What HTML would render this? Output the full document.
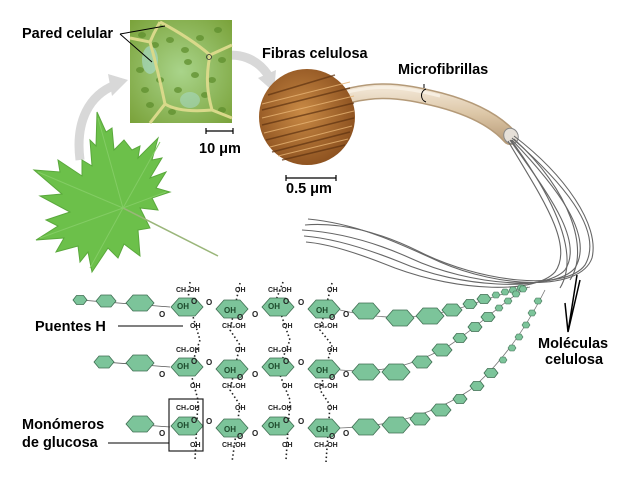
<!DOCTYPE html>
<html><head><meta charset="utf-8"><style>
html,body{margin:0;padding:0;background:#fff;}
svg{display:block;}
.lb{font-family:"Liberation Sans",sans-serif;font-weight:bold;font-size:14.5px;fill:#000;}
.sm{font-family:"Liberation Sans",sans-serif;font-weight:bold;font-size:7px;fill:#222;}
.si{font-family:"Liberation Sans",sans-serif;font-weight:bold;font-size:8px;fill:#1d4a2c;}
.o{font-family:"Liberation Sans",sans-serif;font-weight:bold;font-size:8px;fill:#222;}
</style></head><body>
<svg width="638" height="479" viewBox="0 0 638 479" xmlns="http://www.w3.org/2000/svg">
<defs>
<polygon id="ring" points="-16,0 -8,-9 8,-9 16,0 8,9 -8,9" fill="#7cc49a" stroke="#3f6e52" stroke-width="0.8"/>
<polygon id="hexL" points="-14,0 -7,-8 7,-8 14,0 7,8 -7,8" fill="#7cc49a" stroke="#3f6e52" stroke-width="0.8"/>
<polygon id="hexM" points="-10,0 -5,-6 5,-6 10,0 5,6 -5,6" fill="#7cc49a" stroke="#3f6e52" stroke-width="0.8"/>
<polygon id="hexS" points="-7,0 -3.5,-4.5 3.5,-4.5 7,0 3.5,4.5 -3.5,4.5" fill="#7cc49a" stroke="#3f6e52" stroke-width="0.8"/>
<polygon id="hexT" points="-4,0 -2,-3 2,-3 4,0 2,3 -2,3" fill="#7cc49a" stroke="#3f6e52" stroke-width="0.6"/>
<radialGradient id="cellg" cx="0.5" cy="0.5" r="0.7"><stop offset="0" stop-color="#a9d48a"/><stop offset="1" stop-color="#7aa23a"/></radialGradient>
<radialGradient id="brn" cx="0.45" cy="0.45" r="0.6"><stop offset="0" stop-color="#c98a45"/><stop offset="1" stop-color="#8a4f1e"/></radialGradient>
<linearGradient id="tube" x1="0" y1="0" x2="0" y2="1"><stop offset="0" stop-color="#efe2cf"/><stop offset="0.5" stop-color="#dcc6a6"/><stop offset="1" stop-color="#bfa482"/></linearGradient>
</defs>

<!-- gray arrows -->
<path d="M80,160 C75,120 90,95 115,85" fill="none" stroke="#d8d8d8" stroke-width="9"/>
<polygon points="108,74 128,80 112,96" fill="#d8d8d8"/>
<path d="M214,58 C240,50 258,60 268,75" fill="none" stroke="#d8d8d8" stroke-width="9"/>
<polygon points="258,78 276,70 274,92" fill="#d8d8d8"/>

<!-- cell image -->
<rect x="130" y="20" width="102" height="103" fill="url(#cellg)"/>
<g fill="#5f8f2e" opacity="0.75">
<ellipse cx="142" cy="35" rx="4" ry="3"/><ellipse cx="155" cy="45" rx="4" ry="3"/><ellipse cx="170" cy="40" rx="4" ry="3"/><ellipse cx="185" cy="50" rx="4" ry="3"/><ellipse cx="200" cy="38" rx="4" ry="3"/><ellipse cx="218" cy="30" rx="4" ry="3"/><ellipse cx="222" cy="60" rx="4" ry="3"/><ellipse cx="140" cy="70" rx="4" ry="3"/><ellipse cx="160" cy="80" rx="4" ry="3"/><ellipse cx="178" cy="90" rx="4" ry="3"/><ellipse cx="195" cy="75" rx="4" ry="3"/><ellipse cx="205" cy="95" rx="4" ry="3"/><ellipse cx="150" cy="105" rx="4" ry="3"/><ellipse cx="172" cy="112" rx="4" ry="3"/><ellipse cx="222" cy="110" rx="4" ry="3"/><ellipse cx="188" cy="62" rx="4" ry="3"/><ellipse cx="145" cy="90" rx="4" ry="3"/><ellipse cx="212" cy="80" rx="4" ry="3"/>
</g>
<ellipse cx="150" cy="60" rx="8" ry="14" fill="#a8dcd0" opacity="0.6"/>
<ellipse cx="190" cy="100" rx="10" ry="8" fill="#a8dcd0" opacity="0.5"/>
<g fill="none" stroke="#d9d98a" stroke-width="3">
<path d="M160,22 C175,30 195,42 210,55 L232,45"/>
<path d="M210,55 C205,80 208,95 212,110 L232,118"/>
<path d="M212,110 C190,112 175,110 165,104 L150,123"/>
<path d="M165,104 C160,80 155,60 150,42 L130,38"/>
<path d="M150,42 C155,30 158,26 160,22"/>
</g>
<circle cx="209" cy="57" r="2.5" fill="none" stroke="#333" stroke-width="0.8"/>
<text class="lb" x="22" y="38">Pared celular</text>
<path d="M120,34 L165,26 M120,34 L152,62" stroke="#000" stroke-width="1" fill="none"/>
<path d="M206,131 H233 M206,128 V134 M233,128 V134" stroke="#000" stroke-width="1.2"/>
<text class="lb" x="199" y="153">10 μm</text>

<!-- leaf -->
<path d="M97,112 L106,132 L112,128 L114,150 L124,140 L132,150 L140,146 L138,158 L158,138 L152,160 L162,158 L150,178 L166,172 L156,188 L170,192 L152,198 L158,210 L140,208 L150,228 L138,230 L140,256 L124,244 L118,258 L108,248 L92,272 L88,252 L80,262 L78,246 L56,252 L64,238 L36,240 L58,226 L46,220 L70,212 L40,196 L62,194 L34,170 L60,172 L58,160 L82,176 L82,160 L92,166 L90,140 L96,146 Z" fill="#6cc04a" stroke="#5aa83c" stroke-width="1"/>
<path d="M123,208 L218,256" stroke="#9ab67a" stroke-width="1.5"/>
<path d="M123,208 L98,118 M123,208 L38,172 M123,208 L40,238 M123,208 L90,268 M123,208 L160,142 M123,208 L166,192" stroke="#83cc64" stroke-width="1" fill="none"/>

<!-- microfibril tube -->
<path d="M320,105 C370,85 400,90 440,100 C470,108 495,120 510,137" fill="none" stroke="#b49a78" stroke-width="16" stroke-linecap="round"/>
<path d="M320,105 C370,85 400,90 440,100 C470,108 495,120 510,137" fill="none" stroke="url(#tube)" stroke-width="13"/>
<path d="M322,100 C370,82 400,86 440,96" fill="none" stroke="#f7efe2" stroke-width="3"/>
<ellipse cx="511" cy="136" rx="7" ry="8" fill="#e6e0d8" stroke="#888" stroke-width="1" transform="rotate(-30 511 136)"/>
<path d="M424,84 V88 M426,89 C420,91 420,100 426,102" fill="none" stroke="#000" stroke-width="1"/>
<text class="lb" x="398" y="74">Microfibrillas</text>

<!-- fibre circle -->
<circle cx="307" cy="117" r="48" fill="url(#brn)"/>
<g stroke="#5e3210" stroke-width="1.5" opacity="0.7">
<path d="M262,110 L350,88 M262,125 L354,103 M266,140 L354,118 M272,152 L350,132 M282,160 L345,145 M268,95 L335,75"/>
</g>
<g stroke="#e7b474" stroke-width="1" opacity="0.8">
<path d="M262,104 L350,82 M262,118 L354,96 M264,133 L354,111 M270,147 L352,126 M278,156 L348,139"/>
</g>
<text class="lb" x="262" y="58">Fibras celulosa</text>
<path d="M286,178 H336 M286,175 V181 M336,175 V181" stroke="#000" stroke-width="1.2"/>
<text class="lb" x="286" y="193">0.5 μm</text>

<!-- strands -->
<g fill="none" stroke="#666" stroke-width="1.1">
<path d="M512,138 C560,180 605,230 585,265 C565,292 480,282 420,252 C380,232 340,222 305,225"/>
<path d="M512,140 C555,185 595,235 575,268 C555,292 470,286 410,258 C370,240 335,232 302,230"/>
<path d="M510,140 C545,190 585,240 565,270 C545,292 460,288 400,262 C360,246 330,238 304,236"/>
<path d="M514,136 C565,175 600,225 592,258 C580,292 500,288 440,262 C400,244 360,224 308,219"/>
<path d="M508,141 C540,195 575,245 555,272 C535,294 460,292 395,268 C360,254 330,244 306,242"/>
<path d="M514,139 C570,190 590,250 570,280"/>
<path d="M511,140 C555,200 580,255 560,288"/>
</g>

<!-- Moléculas label -->
<path d="M565,303 L568,332 L580,280 M568,332 L577,275" fill="none" stroke="#000" stroke-width="1.5"/>
<text class="lb" x="538" y="348">Moléculas</text>
<text class="lb" x="545" y="364">celulosa</text>

<!-- dotted H-bridges -->
<g stroke="#222" stroke-width="1.6" stroke-dasharray="1.5,2.5" fill="none">
<path d="M190,282 L188,300 L200,340 L190,370 L198,400 L195,460"/>
<path d="M240,283 L230,330 L240,345 L230,390 L240,405 L232,462"/>
<path d="M283,282 L276,300 L290,340 L278,370 L290,400 L286,460"/>
<path d="M332,283 L320,330 L332,345 L320,390 L330,405 L326,462"/>
</g>

<!-- left chain ends -->
<g stroke="#555" stroke-width="0.8">
<path d="M80,300 L170,307 M104,362 L170,367 M130,424 L170,427"/>
</g>
<use href="#hexS" x="80" y="300"/><use href="#hexM" x="106" y="301"/><use href="#hexL" x="140" y="303"/>
<use href="#hexM" x="104" y="362"/><use href="#hexL" x="140" y="363"/>
<use href="#hexL" x="140" y="424"/>

<!-- right chains -->
<g fill="none" stroke="#777" stroke-width="0.8">
<path d="M340,310 C390,322 430,318 470,305 C495,296 515,290 530,287"/>
<path d="M340,370 C390,374 420,362 450,345 C480,325 505,300 528,287"/>
<path d="M340,428 C400,426 440,410 470,390 C500,365 525,330 545,290"/>
</g>
<g>
<use href="#hexL" x="366" y="311"/><use href="#hexL" x="400" y="318"/><use href="#hexL" x="430" y="316"/><use href="#hexM" x="452" y="310"/><use href="#hexS" x="470" y="304"/><use href="#hexS" x="484" y="299"/><use href="#hexT" x="496" y="295"/><use href="#hexT" x="505" y="292"/><use href="#hexT" x="513" y="290"/><use href="#hexT" x="521" y="288"/>
<use href="#hexL" x="366" y="372"/><use href="#hexL" x="396" y="372"/><use href="#hexM" x="422" y="362"/><use href="#hexM" x="442" y="350"/><use href="#hexS" x="460" y="338"/><use href="#hexS" x="475" y="327"/><use href="#hexS" x="488" y="317"/><use href="#hexT" x="499" y="308"/><use href="#hexT" x="508" y="301"/><use href="#hexT" x="516" y="294"/><use href="#hexT" x="523" y="289"/>
<use href="#hexL" x="366" y="427"/><use href="#hexL" x="396" y="425"/><use href="#hexM" x="420" y="419"/><use href="#hexM" x="441" y="410"/><use href="#hexS" x="460" y="399"/><use href="#hexS" x="477" y="386"/><use href="#hexS" x="491" y="373"/><use href="#hexT" x="503" y="360"/><use href="#hexT" x="512" y="348"/><use href="#hexT" x="519" y="337"/><use href="#hexT" x="526" y="325"/><use href="#hexT" x="532" y="313"/><use href="#hexT" x="538" y="301"/>
</g>

<!-- glucose rings -->
<g>
<use href="#ring" x="187" y="307"/><use href="#ring" x="232" y="309"/><use href="#ring" x="278" y="307"/><use href="#ring" x="324" y="309"/>
<use href="#ring" x="187" y="367"/><use href="#ring" x="232" y="369"/><use href="#ring" x="278" y="367"/><use href="#ring" x="324" y="369"/>
<use href="#ring" x="187" y="426"/><use href="#ring" x="232" y="428"/><use href="#ring" x="278" y="426"/><use href="#ring" x="324" y="428"/>
</g>
<g class="sm">
<text x="176" y="292">CH₂OH</text><text x="235" y="292">OH</text><text x="268" y="292">CH₂OH</text><text x="327" y="292">OH</text>
<text x="190" y="328">OH</text><text x="222" y="328">CH₂OH</text><text x="282" y="328">OH</text><text x="314" y="328">CH₂OH</text>
<text x="176" y="352">CH₂OH</text><text x="235" y="352">OH</text><text x="268" y="352">CH₂OH</text><text x="327" y="352">OH</text>
<text x="190" y="388">OH</text><text x="222" y="388">CH₂OH</text><text x="282" y="388">OH</text><text x="314" y="388">CH₂OH</text>
<text x="176" y="410">CH₂OH</text><text x="235" y="410">OH</text><text x="268" y="410">CH₂OH</text><text x="327" y="410">OH</text>
<text x="190" y="447">OH</text><text x="222" y="447">CH₂OH</text><text x="282" y="447">OH</text><text x="314" y="447">CH₂OH</text>
</g>
<g class="si">
<text x="177" y="309">OH</text><text x="224" y="313">OH</text><text x="268" y="309">OH</text><text x="316" y="313">OH</text>
<text x="177" y="369">OH</text><text x="224" y="373">OH</text><text x="268" y="369">OH</text><text x="316" y="373">OH</text>
<text x="177" y="428">OH</text><text x="224" y="432">OH</text><text x="268" y="428">OH</text><text x="316" y="432">OH</text>
</g>
<g class="o">
<text x="159" y="317">O</text><text x="206" y="305">O</text><text x="252" y="317">O</text><text x="298" y="305">O</text><text x="343" y="317">O</text>
<text x="159" y="377">O</text><text x="206" y="365">O</text><text x="252" y="377">O</text><text x="298" y="365">O</text><text x="343" y="377">O</text>
<text x="159" y="436">O</text><text x="206" y="424">O</text><text x="252" y="436">O</text><text x="298" y="424">O</text><text x="343" y="436">O</text>
<text x="191" y="304">O</text><text x="237" y="320">O</text><text x="283" y="304">O</text><text x="329" y="320">O</text>
<text x="191" y="364">O</text><text x="237" y="380">O</text><text x="283" y="364">O</text><text x="329" y="380">O</text>
<text x="191" y="423">O</text><text x="237" y="439">O</text><text x="283" y="423">O</text><text x="329" y="439">O</text>
</g>

<!-- labels -->
<text class="lb" x="35" y="331">Puentes H</text>
<path d="M118,326 H183" stroke="#000" stroke-width="1"/>
<rect x="169" y="399" width="34" height="52" fill="none" stroke="#222" stroke-width="1.2"/>
<text class="lb" x="22" y="429">Monómeros</text>
<text class="lb" x="22" y="447">de glucosa</text>
<path d="M108,443 H169" stroke="#000" stroke-width="1"/>
</svg>
</body></html>
